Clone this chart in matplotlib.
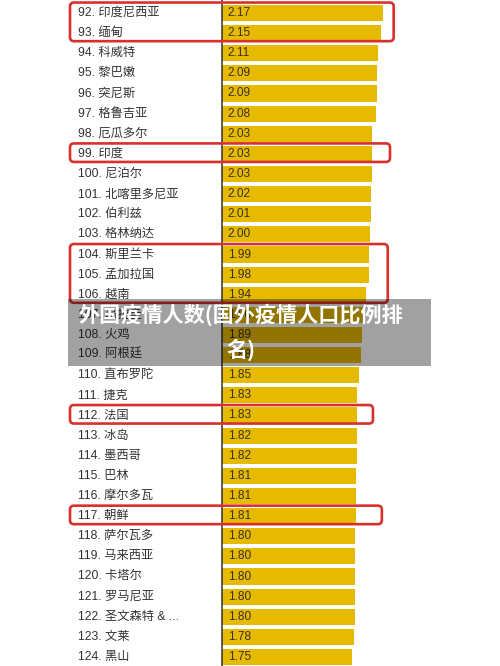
import matplotlib.pyplot as plt
from matplotlib.patches import FancyBboxPatch, Rectangle
from matplotlib.transforms import IdentityTransform

# data
ranks = list(range(92, 125))
countries = ['印度尼西亚', '缅甸', '科威特', '黎巴嫩', '突尼斯', '格鲁吉亚', '厄瓜多尔',
             '印度', '尼泊尔', '北喀里多尼亚', '伯利兹', '格林纳达', '斯里兰卡', '孟加拉国',
             '越南', '乌拉圭', '火鸡', '阿根廷', '直布罗陀', '捷克', '法国', '冰岛', '墨西哥',
             '巴林', '摩尔多瓦', '朝鲜', '萨尔瓦多', '马来西亚', '卡塔尔', '罗马尼亚',
             '圣文森特 & ...', '文莱', '黑山']
values = [2.17, 2.15, 2.11, 2.09, 2.09, 2.08, 2.03, 2.03, 2.03, 2.02, 2.01, 2.00,
          1.99, 1.98, 1.94, 1.90, 1.89, 1.88, 1.85, 1.83, 1.83, 1.82, 1.82, 1.81,
          1.81, 1.81, 1.80, 1.80, 1.80, 1.80, 1.80, 1.78, 1.75]
# highlighted rank ranges (first, last)
highlights = [(92, 93), (99, 99), (104, 106), (112, 112), (117, 117)]
box_right = [2.32, 2.27, 2.24, 2.04, 2.16]  # right edge of each red box (value units)

title = '外国疫情人数(国外疫情人口比例排\n名)'

plt.rcParams['font.family'] = ['Liberation Sans', 'Noto Sans CJK SC', 'DejaVu Sans']

W, H = 500, 666
fig = plt.figure(figsize=(W / 100, H / 100), dpi=100)
ax = fig.add_axes([0, 0, 1, 1])
ax.axis('off')

px_per_unit = 74.0
x_zero = 222.0
row_h = 20.125
row0 = 13.0
ax.set_xlim(-x_zero / px_per_unit, (W - x_zero) / px_per_unit)
ax.set_ylim((H - row0) / row_h, -row0 / row_h)

idx = list(range(len(ranks)))
ax.barh(idx, values, height=0.8, color='#E6BA00', align='center')
ax.axvline(0, color='#333333', lw=1.1)

label_x = (78 - x_zero) / px_per_unit
for i, (r, c, v) in enumerate(zip(ranks, countries, values)):
    ax.text(label_x, i, f'{r}. {c}', va='center', ha='left', fontsize=8.8, color='#333333')
    ax.text(0.08, i, f'{v:.2f}', va='center', ha='left', fontsize=8.6, color='#3a3222')

# red highlight boxes (drawn in pixel space so corners stay round)
fig.canvas.draw()
box_left = (70 - x_zero) / px_per_unit
for (a, b), right in zip(highlights, box_right):
    i0 = ranks.index(a)
    i1 = ranks.index(b)
    (x0, y0), (x1, y1) = ax.transData.transform([(box_left, i1 + 0.4), (right, i0 - 0.52)])
    box = FancyBboxPatch((x0, y0), x1 - x0, y1 - y0,
                         boxstyle='round,pad=0,rounding_size=4',
                         fill=False, edgecolor='#D8312C', lw=1.9,
                         transform=IdentityTransform())
    fig.patches.append(box)

# grey caption band
fig.patches.append(Rectangle((68 / W, (H - 366) / H), (431 - 68) / W, 67 / H,
                             transform=fig.transFigure, color='black', alpha=0.37, lw=0))
fig.text(241 / W, (H - 332) / H, title, ha='center', va='center', multialignment='center',
         fontsize=15.2, fontweight='bold', color='white', linespacing=1.7,
         family=['Noto Sans CJK SC', 'DejaVu Sans'])

fig.savefig('out.png', dpi=100)
